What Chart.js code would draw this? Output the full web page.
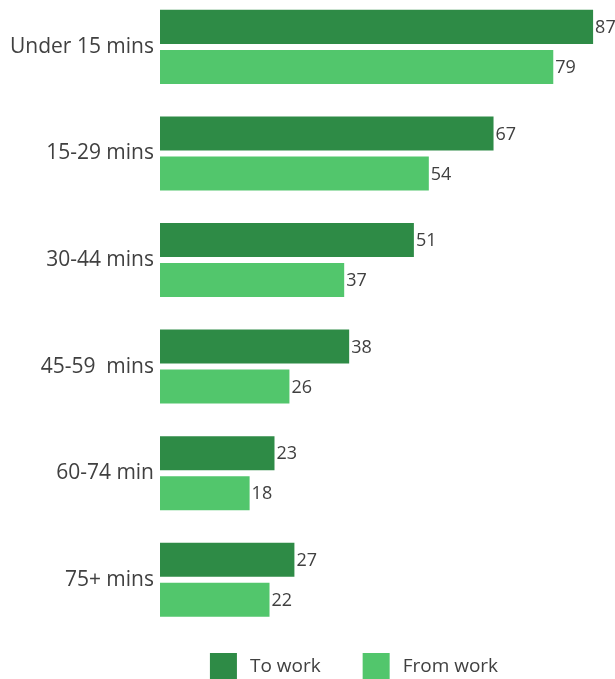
<!DOCTYPE html>
<html>
<head>
<meta charset="utf-8">
<script src="https://cdn.jsdelivr.net/npm/chart.js@4/dist/chart.umd.min.js"></script>
<style>
  html, body { margin: 0; padding: 0; background: #fff; overflow: hidden; }
  #wrap { position: absolute; left: 0; top: -25px; width: 615px; height: 710px; }
</style>
</head>
<body>
<div id="wrap"><canvas id="commute-chart"></canvas></div>
<script>
var categories = ['Under 15 mins', '15-29 mins', '30-44 mins', '45-59  mins', '60-74 min', '75+ mins'];
var toWork = [87, 67, 51, 38, 23, 27];
var fromWork = [79, 54, 37, 26, 18, 22];

var textColor = '#404040';
var fontFamily = '"Open Sans", "DejaVu Sans", sans-serif';

// write the value just past the end of each bar
var valueLabels = {
    id: 'valueLabels',
    afterDatasetsDraw: function (chart) {
        var ctx = chart.ctx;
        ctx.save();
        ctx.font = '18px ' + fontFamily;
        ctx.fillStyle = textColor;
        ctx.textAlign = 'left';
        ctx.textBaseline = 'middle';
        chart.data.datasets.forEach(function (ds, i) {
            chart.getDatasetMeta(i).data.forEach(function (bar, j) {
                ctx.fillText(ds.data[j], bar.x + 2, bar.y + 1);
            });
        });
        ctx.restore();
    }
};

// legend under the plot, drawn by hand so the spacing can match
var bottomLegend = {
    id: 'bottomLegend',
    afterDraw: function (chart) {
        var ctx = chart.ctx;
        var box = 27, boxH = 26, gap = 13, between = 42;
        ctx.save();
        ctx.font = '19px ' + fontFamily;
        ctx.textBaseline = 'middle';
        ctx.textAlign = 'left';
        var items = chart.data.datasets.map(function (ds) {
            return { text: ds.label, color: ds.backgroundColor, w: ctx.measureText(ds.label).width };
        });
        var total = 0;
        items.forEach(function (it, i) { total += box + gap + it.w + (i ? between : 0); });
        var x = 354 - total / 2;
        var y = chart.chartArea.bottom + 20;
        items.forEach(function (it) {
            ctx.fillStyle = it.color;
            ctx.fillRect(x, y, box, boxH);
            ctx.fillStyle = textColor;
            ctx.fillText(it.text, x + box + gap, y + boxH / 2 + 1);
            x += box + gap + it.w + between;
        });
        ctx.restore();
    }
};

var ctx = document.getElementById('commute-chart').getContext('2d');
var chart = new Chart(ctx, {
    type: 'bar',
    data: {
        labels: categories,
        datasets: [{
            label: 'To work',
            data: toWork,
            backgroundColor: '#2e8b46'
        }, {
            label: 'From work',
            data: fromWork,
            backgroundColor: '#52c66c'
        }]
    },
    options: {
        indexAxis: 'y',
        responsive: true,
        maintainAspectRatio: false,
        animation: false,
        categoryPercentage: 0.751,
        barPercentage: 0.85,
        layout: { padding: { left: 0, right: 0, top: 0, bottom: 52 } },
        scales: {
            x: {
                display: false,
                min: 0,
                max: 91.4
            },
            y: {
                afterFit: function (scale) { scale.width = 160; },
                grid: { display: false, drawTicks: false },
                border: { display: false },
                ticks: {
                    color: textColor,
                    padding: 6,
                    font: { family: fontFamily, size: 21 }
                }
            }
        },
        plugins: {
            tooltip: { enabled: false },
            legend: { display: false }
        }
    },
    plugins: [valueLabels, bottomLegend]
});
</script>
</body>
</html>
